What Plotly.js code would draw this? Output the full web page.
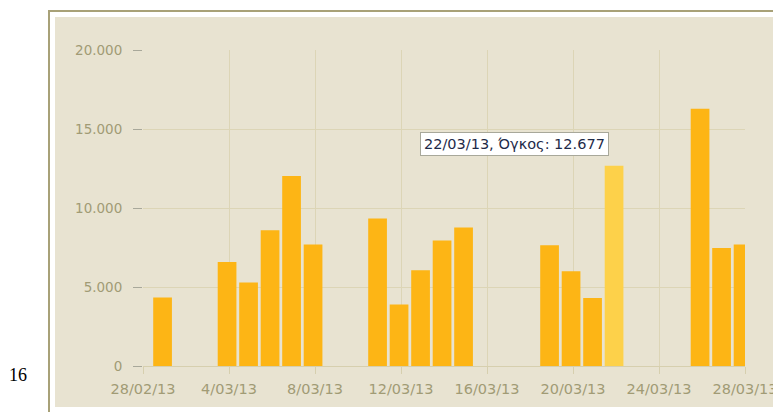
<!DOCTYPE html>
<html>
<head>
<meta charset="utf-8">
<script src="https://cdn.plot.ly/plotly-3.0.1.min.js"></script>
<style>html,body{margin:0;padding:0;background:#fff;}#chart{width:773px;height:412px;}</style>
</head>
<body>
<div id="chart"></div>
<script>
// Data
const dates = ['2013-03-01','2013-03-04','2013-03-05','2013-03-06','2013-03-07','2013-03-08',
               '2013-03-11','2013-03-12','2013-03-13','2013-03-14','2013-03-15',
               '2013-03-19','2013-03-20','2013-03-21','2013-03-22',
               '2013-03-26','2013-03-27','2013-03-28'];
const volumes = [4330, 6590, 5280, 8590, 12030, 7690,
                 9340, 3890, 6060, 7940, 8770,
                 7640, 6000, 4310, 12677,
                 16280, 7470, 7690];
const highlightDate = '2013-03-22';
const tooltipText = '22/03/13, Όγκος: 12.677';
const tickDates = ['2013-02-28','2013-03-04','2013-03-08','2013-03-12','2013-03-16','2013-03-20','2013-03-24','2013-03-28'];
const tickLabels = ['28/02/13','4/03/13','8/03/13','12/03/13','16/03/13','20/03/13','24/03/13','28/03/13'];
const yTicks = [0, 5000, 10000, 15000, 20000];
const yTickLabels = ['0','5.000','10.000','15.000','20.000'];
const sideLabel = '16';

const W = 773, H = 412;
const M = {l: 143, r: 28, t: 50, b: 46};
const pw = W - M.l - M.r, ph = H - M.t - M.b;
const px = x => (x - M.l) / pw;
const py = y => (H - M.b - y) / ph;

const colors = dates.map(d => d === highlightDate ? '#fdd14a' : '#fdb515');
const hiVal = volumes[dates.indexOf(highlightDate)];

const DAY = 86400000;
const trace = {
  type: 'bar', x: dates, y: volumes,
  width: DAY * 0.87,
  offset: -DAY * 0.525,
  marker: {color: colors, line: {width: 0}},
  hoverinfo: 'skip'
};

const layout = {
  width: W, height: H,
  margin: M,
  paper_bgcolor: '#ffffff',
  plot_bgcolor: 'rgba(0,0,0,0)',
  showlegend: false,
  font: {family: 'DejaVu Sans', size: 13, color: '#a19b75'},
  xaxis: {
    type: 'date',
    range: ['2013-02-28', '2013-03-28'],
    tickmode: 'array', tickvals: tickDates, ticktext: tickLabels,
    showgrid: true, gridcolor: '#dcd5b6', gridwidth: 1,
    ticks: 'outside', ticklen: 7, tickcolor: '#d6cfae',
    showline: true, linecolor: '#d6cfae', linewidth: 1,
    zeroline: false,
    ticklabeloverflow: 'allow',
    ticklabelstandoff: 3,
    tickfont: {family: 'DejaVu Sans', size: 14.5, color: '#a19b75'}
  },
  yaxis: {
    range: [0, 20000],
    tickmode: 'array', tickvals: yTicks, ticktext: yTickLabels,
    showgrid: true, gridcolor: '#dcd5b6', gridwidth: 1,
    ticks: 'outside', ticklen: 9, tickcolor: '#a8a89a',
    zeroline: false, showline: false,
    ticklabelstandoff: 8,
    tickfont: {family: 'DejaVu Sans', size: 13.5, color: '#a19b75'}
  },
  shapes: [
    {type: 'rect', xref: 'paper', yref: 'paper', layer: 'below',
     x0: px(55), x1: px(773), y0: py(407), y1: py(17),
     fillcolor: '#e8e3d1', line: {width: 0}},
    {type: 'line', xref: 'paper', yref: 'paper', layer: 'below',
     x0: px(49), x1: px(49), y0: py(412), y1: py(10),
     line: {color: '#a8a178', width: 2}},
    {type: 'line', xref: 'paper', yref: 'paper', layer: 'below',
     x0: px(48), x1: px(773), y0: py(11), y1: py(11),
     line: {color: '#a8a178', width: 2}}
  ],
  annotations: [
    {xref: 'x', yref: 'y', x: highlightDate, y: hiVal,
     text: tooltipText, showarrow: false,
     xanchor: 'right', yanchor: 'bottom', xshift: -7, yshift: 10,
     bgcolor: '#ffffff', bordercolor: '#a8a89a', borderwidth: 1, borderpad: 3,
     font: {family: 'DejaVu Sans', size: 14.5, color: '#1e2a48'}},
    {xref: 'paper', yref: 'paper', x: px(18), y: py(375),
     text: sideLabel, showarrow: false, xanchor: 'center', yanchor: 'middle',
     font: {family: 'Liberation Serif', size: 18, color: '#000000'}}
  ]
};

Plotly.newPlot('chart', [trace], layout, {displayModeBar: false, staticPlot: true});
</script>
</body>
</html>
